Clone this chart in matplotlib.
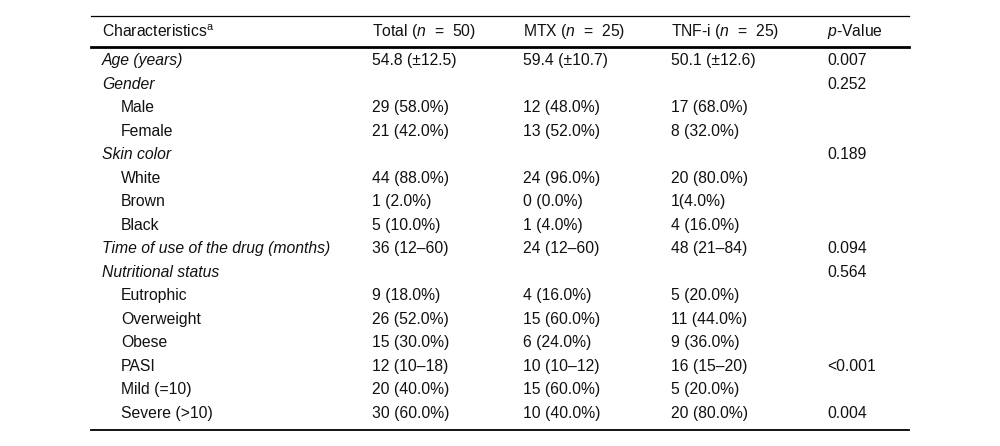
import matplotlib
matplotlib.use("Agg")
import matplotlib.pyplot as plt

plt.rcParams['font.family'] = ['Liberation Sans', 'DejaVu Sans']
plt.rcParams['mathtext.fontset'] = 'custom'
plt.rcParams['mathtext.rm'] = 'Liberation Sans'
plt.rcParams['mathtext.it'] = 'Liberation Sans:italic'

# Cabeceras de columna
cabeceras = [r"Characteristics$^{\mathrm{a}}$", r"Total ($n$  =  50)",
             r"MTX ($n$  =  25)", r"TNF-i ($n$  =  25)", r"$p$-Value"]

# Filas: etiqueta, estilo (cursiva o sangrada), valores
etiquetas = ["Age (years)", "Gender", "Male", "Female", "Skin color", "White",
             "Brown", "Black", "Time of use of the drug (months)",
             "Nutritional status", "Eutrophic", "Overweight", "Obese", "PASI",
             "Mild (=10)", "Severe (>10)"]
cursiva = [True, True, False, False, True, False, False, False, True, True,
           False, False, False, False, False, False]
total = ["54.8 (±12.5)", "", "29 (58.0%)", "21 (42.0%)", "", "44 (88.0%)",
         "1 (2.0%)", "5 (10.0%)", "36 (12–60)", "", "9 (18.0%)", "26 (52.0%)",
         "15 (30.0%)", "12 (10–18)", "20 (40.0%)", "30 (60.0%)"]
mtx = ["59.4 (±10.7)", "", "12 (48.0%)", "13 (52.0%)", "", "24 (96.0%)",
       "0 (0.0%)", "1 (4.0%)", "24 (12–60)", "", "4 (16.0%)", "15 (60.0%)",
       "6 (24.0%)", "10 (10–12)", "15 (60.0%)", "10 (40.0%)"]
tnfi = ["50.1 (±12.6)", "", "17 (68.0%)", "8 (32.0%)", "", "20 (80.0%)",
        "1(4.0%)", "4 (16.0%)", "48 (21–84)", "", "5 (20.0%)", "11 (44.0%)",
        "9 (36.0%)", "16 (15–20)", "5 (20.0%)", "20 (80.0%)"]
pvalor = ["0.007", "0.252", "", "", "0.189", "", "", "", "0.094", "0.564",
          "", "", "", "<0.001", "", "0.004"]

ANCHO, ALTO = 1000, 446
TAM = 11.3

fig = plt.figure(figsize=(ANCHO / 100, ALTO / 100), dpi=100)
ax = fig.add_axes([0, 0, 1, 1])
ax.set_xlim(0, ANCHO)
ax.set_ylim(ALTO, 0)
ax.axis("off")

columnasX = [102, 372, 523, 671, 827]

# Líneas horizontales
ax.plot([91, 909], [15.5, 15.5], color="black", lw=0.9)
ax.plot([91, 909], [47, 47], color="black", lw=2.0)
ax.plot([91, 909], [430, 430], color="black", lw=1.3)

for x, texto in zip(columnasX, cabeceras):
    ax.text(x, 31.5, texto, fontsize=TAM, va="center", ha="left", color="#111111")

paso = (413 - 60) / (len(etiquetas) - 1)
for i, etiqueta in enumerate(etiquetas):
    y = 60.5 + i * paso
    if cursiva[i]:
        ax.text(columnasX[0], y, etiqueta, fontsize=TAM, va="center",
                style="italic", color="#111111")
    else:
        ax.text(columnasX[0] + 19, y, etiqueta, fontsize=TAM, va="center",
                color="#111111")
    for x, valores in zip(columnasX[1:], [total, mtx, tnfi, pvalor]):
        ax.text(x, y, valores[i], fontsize=TAM, va="center", color="#111111")

fig.savefig("out.png", dpi=100)
